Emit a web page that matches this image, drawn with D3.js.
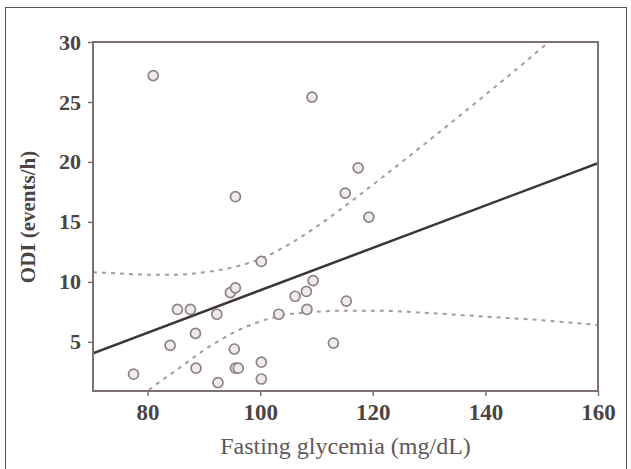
<!DOCTYPE html>
<html>
<head>
<meta charset="utf-8">
<script src="https://cdn.jsdelivr.net/npm/d3@7"></script>
<style>
  body { margin: 0; background: #fff; }
  text { font-family: "Liberation Serif", "DejaVu Serif", serif; }
</style>
</head>
<body>
<svg id="chart" width="631" height="469"></svg>
<script>
// glycemia (mg/dL) vs ODI (events/h)
var glycemia = [81.0, 109.2, 117.4, 115.1, 119.3, 95.6, 100.2, 109.4, 94.7, 95.6,
                85.3, 87.6, 92.3, 88.5, 84.0, 95.4, 77.5, 88.6, 95.6, 96.1,
                100.2, 100.2, 92.5, 108.2, 106.2, 108.3, 115.3, 103.3, 113.0];
var odi = [27.2, 25.4, 19.5, 17.4, 15.4, 17.1, 11.7, 10.1, 9.1, 9.5,
           7.7, 7.7, 7.3, 5.7, 4.7, 4.4, 2.3, 2.8, 2.8, 2.8,
           3.3, 1.9, 1.6, 9.2, 8.8, 7.7, 8.4, 7.3, 4.9];

// fitted line ends
var fitX = [70.3, 160];
var fitY = [4.05, 19.9];

// confidence band, upper and lower curves
var upperX = [70.3, 75, 80, 85, 90, 95, 100, 105, 110, 115, 120, 130, 140, 150, 152];
var upperY = [10.8, 10.7, 10.6, 10.6, 10.8, 11.2, 11.9, 13.1, 14.6, 16.3, 18.1, 21.8, 25.6, 29.5, 30.3];
var lowerX = [79, 80, 85, 90, 95, 100, 105, 110, 115, 120, 130, 140, 150, 160];
var lowerY = [0.5, 0.9, 2.6, 4.3, 5.7, 6.7, 7.3, 7.5, 7.6, 7.6, 7.4, 7.1, 6.8, 6.4];

var xTicks = [80, 100, 120, 140, 160];
var yTicks = [5, 10, 15, 20, 25, 30];

var svg = d3.select('#chart');
var pLeft = 93, pRight = 598, pTop = 42, pBottom = 391;

var x = d3.scaleLinear().domain([70.3, 160]).range([pLeft, pRight]);
var y = d3.scaleLinear().domain([0.9, 30]).range([pBottom, pTop]);

// outer frame
svg.append('rect')
    .attr('x', 5.5).attr('y', 7.5)
    .attr('width', 621).attr('height', 470)
    .attr('fill', 'none')
    .attr('stroke', '#555')
    .attr('stroke-width', 1);

svg.append('clipPath').attr('id', 'plotclip')
  .append('rect')
    .attr('x', pLeft).attr('y', pTop)
    .attr('width', pRight - pLeft).attr('height', pBottom - pTop);

var line = d3.line().curve(d3.curveMonotoneX);

function pts(xs, ys) {
    return xs.map(function (v, i) { return [x(v), y(ys[i])]; });
}

var plot = svg.append('g').attr('clip-path', 'url(#plotclip)');

plot.append('path')
    .attr('d', line(pts(upperX, upperY)))
    .attr('fill', 'none')
    .attr('stroke', '#a99b98')
    .attr('stroke-width', 2)
    .attr('stroke-dasharray', '4,5');

plot.append('path')
    .attr('d', line(pts(lowerX, lowerY)))
    .attr('fill', 'none')
    .attr('stroke', '#a99b98')
    .attr('stroke-width', 2)
    .attr('stroke-dasharray', '4,5');

plot.append('path')
    .attr('d', d3.line()(pts(fitX, fitY)))
    .attr('fill', 'none')
    .attr('stroke', '#3d3535')
    .attr('stroke-width', 2.5);

plot.selectAll('circle.pt')
    .data(glycemia)
    .enter().append('circle')
    .attr('class', 'pt')
    .attr('cx', function (d) { return x(d); })
    .attr('cy', function (d, i) { return y(odi[i]); })
    .attr('r', 5)
    .attr('fill', '#f0ebeb')
    .attr('stroke', '#8e8282')
    .attr('stroke-width', 1.7);

// box
svg.append('rect')
    .attr('x', pLeft).attr('y', pTop)
    .attr('width', pRight - pLeft).attr('height', pBottom - pTop)
    .attr('fill', 'none')
    .attr('stroke', '#7d7270')
    .attr('stroke-width', 2);

var xAxis = d3.axisBottom(x).tickValues(xTicks).tickSize(5).tickPadding(8);
var yAxis = d3.axisLeft(y).tickValues(yTicks).tickSize(5).tickPadding(7);

var gx = svg.append('g').attr('transform', 'translate(0,' + pBottom + ')').call(xAxis);
var gy = svg.append('g').attr('transform', 'translate(' + pLeft + ',0)').call(yAxis);

[gx, gy].forEach(function (g) {
    g.select('.domain').remove();
    g.selectAll('line').attr('stroke', '#7d7270').attr('stroke-width', 1.5);
    g.selectAll('text')
        .attr('fill', '#4a4444')
        .style('font-size', '23px')
        .style('font-weight', 'bold')
        .style('font-family', '"Liberation Serif", serif');
});
gy.selectAll('text').style('font-size', '22px');

svg.append('text')
    .attr('x', (pLeft + pRight) / 2)
    .attr('y', 454)
    .attr('text-anchor', 'middle')
    .attr('fill', '#5e5858')
    .style('font-size', '24px')
    .text('Fasting glycemia (mg/dL)');

svg.append('text')
    .attr('transform', 'translate(35,' + 217 + ') rotate(-90)')
    .attr('text-anchor', 'middle')
    .attr('fill', '#4a4444')
    .style('font-size', '21px')
    .style('font-weight', 'bold')
    .text('ODI (events/h)');
</script>
</body>
</html>
